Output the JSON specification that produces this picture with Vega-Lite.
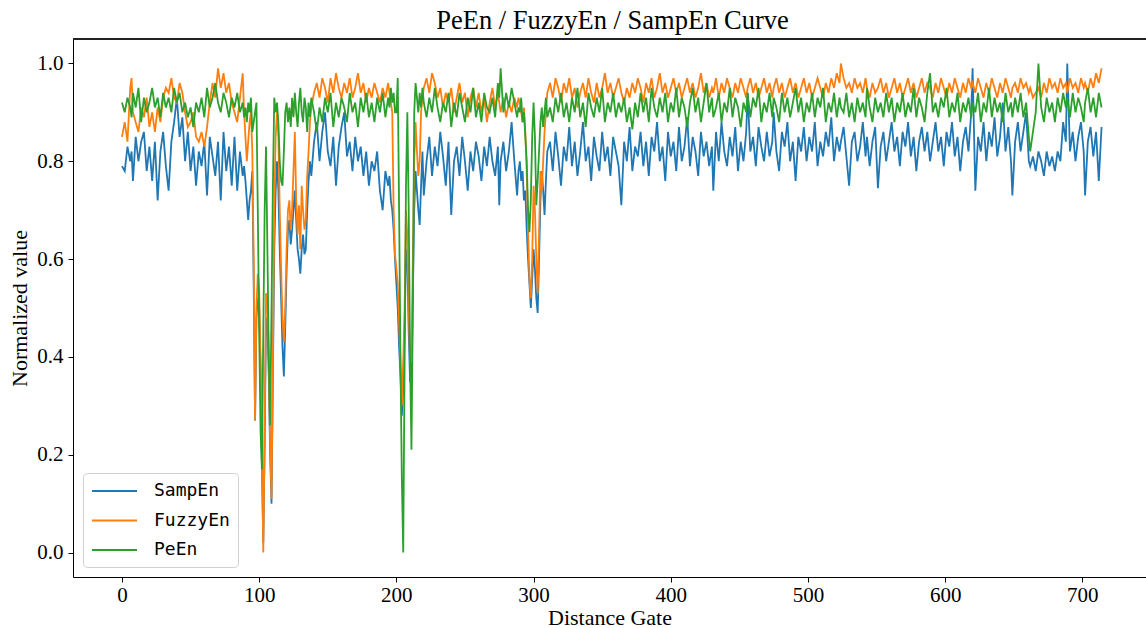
{
  "$schema": "https://vega.github.io/schema/vega-lite/v6.json",
  "width": 1073,
  "height": 538,
  "autosize": {"type": "none"},
  "padding": {"left": 73, "top": 39, "right": 0, "bottom": 51},
  "background": "white",
  "title": {
    "text": "PeEn / FuzzyEn / SampEn Curve",
    "font": "Liberation Serif",
    "fontSize": 26.5,
    "fontWeight": "normal",
    "color": "black",
    "anchor": "middle",
    "dx": 3,
    "offset": 4
  },
  "data": {
    "values": [
      {"g":0,"s":0.79,"f":0.85,"p":0.92},{"g":2,"s":0.78,"f":0.88,"p":0.90},{"g":4,"s":0.83,"f":0.84,"p":0.93},{"g":6,"s":0.80,"f":0.95,"p":0.91},{"g":7,"s":0.82,"f":0.97,"p":0.89},
      {"g":8,"s":0.76,"f":0.90,"p":0.94},{"g":10,"s":0.85,"f":0.88,"p":0.91},{"g":12,"s":0.80,"f":0.86,"p":0.95},{"g":14,"s":0.84,"f":0.91,"p":0.88},{"g":16,"s":0.86,"f":0.89,"p":0.93},
      {"g":18,"s":0.78,"f":0.93,"p":0.90},{"g":20,"s":0.83,"f":0.87,"p":0.92},{"g":22,"s":0.76,"f":0.90,"p":0.95},{"g":24,"s":0.84,"f":0.86,"p":0.91},{"g":26,"s":0.72,"f":0.91,"p":0.93},
      {"g":28,"s":0.82,"f":0.88,"p":0.89},{"g":30,"s":0.86,"f":0.93,"p":0.94},{"g":32,"s":0.79,"f":0.95,"p":0.91},{"g":34,"s":0.74,"f":0.94,"p":0.93},{"g":36,"s":0.84,"f":0.97,"p":0.90},
      {"g":38,"s":0.88,"f":0.93,"p":0.95},{"g":40,"s":0.93,"f":0.92,"p":0.92},{"g":42,"s":0.85,"f":0.96,"p":0.94},{"g":44,"s":0.89,"f":0.94,"p":0.90},{"g":46,"s":0.80,"f":0.90,"p":0.92},
      {"g":48,"s":0.86,"f":0.87,"p":0.89},{"g":50,"s":0.78,"f":0.88,"p":0.91},{"g":52,"s":0.83,"f":0.90,"p":0.87},{"g":54,"s":0.75,"f":0.85,"p":0.92},{"g":56,"s":0.82,"f":0.84,"p":0.90},
      {"g":58,"s":0.79,"f":0.86,"p":0.93},{"g":60,"s":0.84,"f":0.83,"p":0.89},{"g":62,"s":0.73,"f":0.87,"p":0.95},{"g":64,"s":0.85,"f":0.92,"p":0.91},{"g":66,"s":0.81,"f":0.96,"p":0.93},
      {"g":68,"s":0.77,"f":0.93,"p":0.96},{"g":70,"s":0.84,"f":0.99,"p":0.92},{"g":72,"s":0.72,"f":0.95,"p":0.90},{"g":74,"s":0.86,"f":0.98,"p":0.94},{"g":76,"s":0.78,"f":0.94,"p":0.92},
      {"g":78,"s":0.83,"f":0.96,"p":0.89},{"g":80,"s":0.75,"f":0.92,"p":0.93},{"g":82,"s":0.85,"f":0.90,"p":0.91},{"g":84,"s":0.74,"f":0.88,"p":0.94},{"g":86,"s":0.82,"f":0.93,"p":0.90},
      {"g":88,"s":0.77,"f":0.98,"p":0.92},{"g":89,"s":0.79,"f":0.90,"p":0.89},{"g":90,"s":0.76,"f":0.85,"p":0.91},{"g":91,"s":0.72,"f":0.80,"p":0.88},{"g":92,"s":0.68,"f":0.84,"p":0.92},
      {"g":93,"s":0.72,"f":0.88,"p":0.90},{"g":94,"s":0.74,"f":0.90,"p":0.93},{"g":95,"s":0.78,"f":0.82,"p":0.86},{"g":96,"s":0.55,"f":0.60,"p":0.88},{"g":97,"s":0.27,"f":0.27,"p":0.90},
      {"g":98,"s":0.48,"f":0.50,"p":0.92},{"g":99,"s":0.52,"f":0.57,"p":0.70},{"g":100,"s":0.50,"f":0.54,"p":0.45},{"g":101,"s":0.38,"f":0.40,"p":0.25},{"g":102,"s":0.18,"f":0.20,"p":0.17},
      {"g":103,"s":0.02,"f":0.0,"p":0.45},{"g":104,"s":0.22,"f":0.25,"p":0.70},{"g":105,"s":0.48,"f":0.53,"p":0.83},{"g":106,"s":0.47,"f":0.52,"p":0.62},{"g":107,"s":0.36,"f":0.40,"p":0.40},
      {"g":108,"s":0.20,"f":0.22,"p":0.26},{"g":109,"s":0.10,"f":0.11,"p":0.50},{"g":110,"s":0.36,"f":0.40,"p":0.75},{"g":111,"s":0.62,"f":0.70,"p":0.93},{"g":112,"s":0.74,"f":0.85,"p":0.90},
      {"g":113,"s":0.80,"f":0.90,"p":0.92},{"g":114,"s":0.74,"f":0.85,"p":0.88},{"g":115,"s":0.62,"f":0.70,"p":0.80},{"g":116,"s":0.52,"f":0.58,"p":0.76},{"g":117,"s":0.42,"f":0.48,"p":0.75},
      {"g":118,"s":0.36,"f":0.43,"p":0.82},{"g":119,"s":0.46,"f":0.50,"p":0.90},{"g":120,"s":0.58,"f":0.62,"p":0.92},{"g":121,"s":0.66,"f":0.70,"p":0.88},{"g":122,"s":0.68,"f":0.72,"p":0.91},
      {"g":123,"s":0.63,"f":0.66,"p":0.87},{"g":124,"s":0.66,"f":0.70,"p":0.93},{"g":125,"s":0.70,"f":0.78,"p":0.89},{"g":126,"s":0.74,"f":0.86,"p":0.94},{"g":127,"s":0.68,"f":0.72,"p":0.90},
      {"g":128,"s":0.62,"f":0.65,"p":0.87},{"g":129,"s":0.60,"f":0.71,"p":0.92},{"g":130,"s":0.57,"f":0.62,"p":0.95},{"g":131,"s":0.62,"f":0.75,"p":0.90},{"g":132,"s":0.65,"f":0.70,"p":0.88},
      {"g":133,"s":0.61,"f":0.66,"p":0.93},{"g":134,"s":0.62,"f":0.68,"p":0.91},{"g":135,"s":0.70,"f":0.77,"p":0.86},{"g":136,"s":0.76,"f":0.82,"p":0.92},{"g":137,"s":0.80,"f":0.88,"p":0.89},
      {"g":138,"s":0.77,"f":0.91,"p":0.93},{"g":140,"s":0.84,"f":0.94,"p":0.90},{"g":142,"s":0.88,"f":0.96,"p":0.86},{"g":144,"s":0.80,"f":0.93,"p":0.91},{"g":146,"s":0.86,"f":0.97,"p":0.88},
      {"g":148,"s":0.90,"f":0.95,"p":0.93},{"g":150,"s":0.82,"f":0.92,"p":0.90},{"g":152,"s":0.79,"f":0.97,"p":0.94},{"g":154,"s":0.85,"f":0.94,"p":0.87},{"g":156,"s":0.75,"f":0.98,"p":0.92},
      {"g":158,"s":0.83,"f":0.95,"p":0.89},{"g":160,"s":0.87,"f":0.93,"p":0.93},{"g":162,"s":0.90,"f":0.96,"p":0.91},{"g":164,"s":0.81,"f":0.94,"p":0.88},{"g":166,"s":0.84,"f":0.97,"p":0.94},
      {"g":168,"s":0.78,"f":0.93,"p":0.90},{"g":170,"s":0.85,"f":0.95,"p":0.92},{"g":172,"s":0.80,"f":0.98,"p":0.87},{"g":174,"s":0.83,"f":0.94,"p":0.93},{"g":176,"s":0.77,"f":0.96,"p":0.90},
      {"g":178,"s":0.82,"f":0.92,"p":0.94},{"g":180,"s":0.75,"f":0.95,"p":0.89},{"g":182,"s":0.80,"f":0.93,"p":0.92},{"g":184,"s":0.78,"f":0.96,"p":0.88},{"g":186,"s":0.82,"f":0.94,"p":0.93},
      {"g":188,"s":0.74,"f":0.92,"p":0.90},{"g":190,"s":0.70,"f":0.95,"p":0.94},{"g":192,"s":0.78,"f":0.93,"p":0.89},{"g":194,"s":0.75,"f":0.96,"p":0.93},{"g":195,"s":0.77,"f":0.94,"p":0.91},
      {"g":196,"s":0.72,"f":0.92,"p":0.95},{"g":197,"s":0.70,"f":0.90,"p":0.92},{"g":198,"s":0.66,"f":0.70,"p":0.94},{"g":199,"s":0.60,"f":0.61,"p":0.90},{"g":200,"s":0.55,"f":0.58,"p":0.90},
      {"g":201,"s":0.50,"f":0.55,"p":0.97},{"g":202,"s":0.42,"f":0.47,"p":0.70},{"g":203,"s":0.36,"f":0.39,"p":0.39},{"g":204,"s":0.28,"f":0.30,"p":0.15},{"g":205,"s":0.34,"f":0.39,"p":0.0},
      {"g":206,"s":0.45,"f":0.50,"p":0.39},{"g":207,"s":0.62,"f":0.70,"p":0.75},{"g":208,"s":0.60,"f":0.65,"p":0.90},{"g":209,"s":0.45,"f":0.50,"p":0.70},{"g":210,"s":0.35,"f":0.39,"p":0.39},
      {"g":211,"s":0.35,"f":0.39,"p":0.21},{"g":212,"s":0.52,"f":0.60,"p":0.50},{"g":213,"s":0.70,"f":0.80,"p":0.90},{"g":214,"s":0.78,"f":0.88,"p":0.96},{"g":215,"s":0.74,"f":0.82,"p":0.93},
      {"g":216,"s":0.70,"f":0.77,"p":0.90},{"g":217,"s":0.67,"f":0.80,"p":0.94},{"g":218,"s":0.75,"f":0.90,"p":0.91},{"g":219,"s":0.82,"f":0.93,"p":0.95},{"g":220,"s":0.73,"f":0.95,"p":0.92},
      {"g":222,"s":0.80,"f":0.97,"p":0.89},{"g":224,"s":0.85,"f":0.94,"p":0.93},{"g":226,"s":0.77,"f":0.98,"p":0.90},{"g":228,"s":0.83,"f":0.96,"p":0.95},{"g":230,"s":0.79,"f":0.93,"p":0.91},
      {"g":232,"s":0.86,"f":0.95,"p":0.88},{"g":234,"s":0.81,"f":0.91,"p":0.92},{"g":236,"s":0.75,"f":0.94,"p":0.90},{"g":238,"s":0.84,"f":0.92,"p":0.94},{"g":240,"s":0.69,"f":0.95,"p":0.87},
      {"g":242,"s":0.80,"f":0.90,"p":0.92},{"g":244,"s":0.83,"f":0.93,"p":0.89},{"g":246,"s":0.77,"f":0.96,"p":0.94},{"g":248,"s":0.85,"f":0.92,"p":0.91},{"g":250,"s":0.80,"f":0.94,"p":0.88},
      {"g":252,"s":0.74,"f":0.89,"p":0.93},{"g":254,"s":0.82,"f":0.93,"p":0.90},{"g":256,"s":0.78,"f":0.95,"p":0.95},{"g":258,"s":0.84,"f":0.91,"p":0.89},{"g":260,"s":0.81,"f":0.94,"p":0.92},
      {"g":262,"s":0.76,"f":0.90,"p":0.88},{"g":264,"s":0.83,"f":0.93,"p":0.94},{"g":266,"s":0.79,"f":0.88,"p":0.91},{"g":268,"s":0.85,"f":0.92,"p":0.90},{"g":270,"s":0.80,"f":0.95,"p":0.93},
      {"g":272,"s":0.77,"f":0.91,"p":0.89},{"g":274,"s":0.83,"f":0.94,"p":0.96},{"g":275,"s":0.71,"f":0.92,"p":0.93},{"g":276,"s":0.80,"f":0.90,"p":0.99},{"g":278,"s":0.84,"f":0.93,"p":0.90},
      {"g":280,"s":0.78,"f":0.89,"p":0.94},{"g":282,"s":0.82,"f":0.92,"p":0.91},{"g":284,"s":0.88,"f":0.90,"p":0.95},{"g":286,"s":0.80,"f":0.93,"p":0.92},{"g":288,"s":0.73,"f":0.91,"p":0.89},
      {"g":289,"s":0.78,"f":0.93,"p":0.91},{"g":290,"s":0.80,"f":0.92,"p":0.90},{"g":291,"s":0.76,"f":0.90,"p":0.93},{"g":292,"s":0.78,"f":0.88,"p":0.88},{"g":293,"s":0.72,"f":0.91,"p":0.90},
      {"g":294,"s":0.74,"f":0.86,"p":0.85},{"g":295,"s":0.66,"f":0.78,"p":0.80},{"g":296,"s":0.60,"f":0.66,"p":0.70},{"g":297,"s":0.55,"f":0.56,"p":0.655},{"g":298,"s":0.50,"f":0.52,"p":0.72},
      {"g":299,"s":0.56,"f":0.60,"p":0.85},{"g":300,"s":0.62,"f":0.75,"p":0.92},{"g":301,"s":0.58,"f":0.70,"p":0.85},{"g":302,"s":0.52,"f":0.60,"p":0.71},{"g":303,"s":0.49,"f":0.53,"p":0.76},
      {"g":304,"s":0.60,"f":0.65,"p":0.82},{"g":305,"s":0.72,"f":0.78,"p":0.88},{"g":306,"s":0.78,"f":0.74,"p":0.91},{"g":307,"s":0.74,"f":0.80,"p":0.87},{"g":308,"s":0.69,"f":0.86,"p":0.90},
      {"g":309,"s":0.76,"f":0.90,"p":0.93},{"g":310,"s":0.82,"f":0.94,"p":0.89},{"g":312,"s":0.84,"f":0.96,"p":0.91},{"g":314,"s":0.78,"f":0.93,"p":0.88},{"g":316,"s":0.86,"f":0.97,"p":0.93},
      {"g":318,"s":0.81,"f":0.95,"p":0.90},{"g":320,"s":0.75,"f":0.92,"p":0.94},{"g":322,"s":0.83,"f":0.96,"p":0.89},{"g":324,"s":0.80,"f":0.94,"p":0.92},{"g":326,"s":0.87,"f":0.97,"p":0.88},
      {"g":328,"s":0.79,"f":0.93,"p":0.93},{"g":330,"s":0.84,"f":0.95,"p":0.90},{"g":332,"s":0.77,"f":0.91,"p":0.95},{"g":334,"s":0.82,"f":0.94,"p":0.89},{"g":336,"s":0.88,"f":0.96,"p":0.92},
      {"g":338,"s":0.80,"f":0.93,"p":0.87},{"g":340,"s":0.83,"f":0.97,"p":0.94},{"g":342,"s":0.76,"f":0.94,"p":0.91},{"g":344,"s":0.85,"f":0.92,"p":0.89},{"g":346,"s":0.81,"f":0.96,"p":0.93},
      {"g":348,"s":0.78,"f":0.93,"p":0.90},{"g":350,"s":0.86,"f":0.95,"p":0.95},{"g":352,"s":0.80,"f":0.98,"p":0.88},{"g":354,"s":0.83,"f":0.94,"p":0.92},{"g":356,"s":0.77,"f":0.96,"p":0.90},
      {"g":358,"s":0.85,"f":0.93,"p":0.94},{"g":360,"s":0.82,"f":0.95,"p":0.89},{"g":362,"s":0.79,"f":0.97,"p":0.92},{"g":364,"s":0.71,"f":0.94,"p":0.90},{"g":366,"s":0.84,"f":0.92,"p":0.93},
      {"g":368,"s":0.80,"f":0.95,"p":0.88},{"g":370,"s":0.87,"f":0.93,"p":0.91},{"g":372,"s":0.78,"f":0.96,"p":0.865},{"g":374,"s":0.83,"f":0.94,"p":0.92},{"g":376,"s":0.81,"f":0.97,"p":0.89},
      {"g":378,"s":0.86,"f":0.95,"p":0.94},{"g":380,"s":0.79,"f":0.92,"p":0.90},{"g":382,"s":0.84,"f":0.96,"p":0.93},{"g":384,"s":0.77,"f":0.94,"p":0.88},{"g":386,"s":0.85,"f":0.97,"p":0.95},
      {"g":388,"s":0.82,"f":0.93,"p":0.91},{"g":390,"s":0.88,"f":0.95,"p":0.89},{"g":392,"s":0.80,"f":0.98,"p":0.93},{"g":394,"s":0.83,"f":0.94,"p":0.90},{"g":396,"s":0.76,"f":0.96,"p":0.94},
      {"g":398,"s":0.86,"f":0.93,"p":0.88},{"g":400,"s":0.81,"f":0.95,"p":0.92},{"g":402,"s":0.84,"f":0.97,"p":0.90},{"g":404,"s":0.78,"f":0.94,"p":0.95},{"g":406,"s":0.87,"f":0.96,"p":0.89},
      {"g":408,"s":0.80,"f":0.93,"p":0.93},{"g":410,"s":0.83,"f":0.95,"p":0.91},{"g":412,"s":0.89,"f":0.97,"p":0.87},{"g":414,"s":0.79,"f":0.94,"p":0.92},{"g":416,"s":0.85,"f":0.96,"p":0.95},
      {"g":418,"s":0.82,"f":0.93,"p":0.90},{"g":420,"s":0.77,"f":0.95,"p":0.93},{"g":422,"s":0.86,"f":0.98,"p":0.88},{"g":424,"s":0.81,"f":0.94,"p":0.92},{"g":426,"s":0.84,"f":0.96,"p":0.96},
      {"g":428,"s":0.79,"f":0.93,"p":0.90},{"g":430,"s":0.83,"f":0.95,"p":0.93},{"g":431,"s":0.74,"f":0.94,"p":0.89},{"g":433,"s":0.86,"f":0.97,"p":0.91},{"g":435,"s":0.80,"f":0.93,"p":0.94},
      {"g":437,"s":0.88,"f":0.96,"p":0.88},{"g":439,"s":0.82,"f":0.94,"p":0.92},{"g":441,"s":0.79,"f":0.97,"p":0.90},{"g":443,"s":0.85,"f":0.95,"p":0.95},{"g":445,"s":0.81,"f":0.93,"p":0.89},
      {"g":447,"s":0.87,"f":0.96,"p":0.93},{"g":449,"s":0.78,"f":0.94,"p":0.91},{"g":451,"s":0.84,"f":0.97,"p":0.87},{"g":453,"s":0.80,"f":0.95,"p":0.92},{"g":455,"s":0.86,"f":0.93,"p":0.90},
      {"g":456,"s":0.94,"f":0.95,"p":0.94},{"g":458,"s":0.82,"f":0.97,"p":0.89},{"g":460,"s":0.85,"f":0.94,"p":0.93},{"g":462,"s":0.79,"f":0.96,"p":0.91},{"g":464,"s":0.87,"f":0.93,"p":0.95},
      {"g":466,"s":0.83,"f":0.95,"p":0.88},{"g":468,"s":0.80,"f":0.97,"p":0.92},{"g":470,"s":0.86,"f":0.94,"p":0.90},{"g":472,"s":0.81,"f":0.96,"p":0.94},{"g":474,"s":0.84,"f":0.93,"p":0.89},
      {"g":475,"s":0.90,"f":0.95,"p":0.93},{"g":477,"s":0.82,"f":0.97,"p":0.91},{"g":479,"s":0.78,"f":0.94,"p":0.88},{"g":481,"s":0.86,"f":0.96,"p":0.94},{"g":483,"s":0.83,"f":0.93,"p":0.90},
      {"g":485,"s":0.88,"f":0.95,"p":0.93},{"g":487,"s":0.80,"f":0.97,"p":0.89},{"g":489,"s":0.84,"f":0.94,"p":0.92},{"g":491,"s":0.76,"f":0.96,"p":0.95},{"g":493,"s":0.85,"f":0.93,"p":0.90},
      {"g":495,"s":0.82,"f":0.95,"p":0.93},{"g":497,"s":0.87,"f":0.97,"p":0.88},{"g":499,"s":0.80,"f":0.94,"p":0.92},{"g":501,"s":0.85,"f":0.96,"p":0.90},{"g":503,"s":0.82,"f":0.93,"p":0.94},
      {"g":505,"s":0.88,"f":0.95,"p":0.89},{"g":507,"s":0.79,"f":0.97,"p":0.93},{"g":509,"s":0.84,"f":0.95,"p":0.91},{"g":511,"s":0.81,"f":0.93,"p":0.95},{"g":513,"s":0.86,"f":0.96,"p":0.88},
      {"g":515,"s":0.83,"f":0.94,"p":0.92},{"g":517,"s":0.89,"f":0.97,"p":0.90},{"g":519,"s":0.80,"f":0.95,"p":0.94},{"g":521,"s":0.85,"f":0.98,"p":0.89},{"g":523,"s":0.82,"f":0.96,"p":0.93},
      {"g":524,"s":0.84,"f":1.0,"p":0.91},{"g":526,"s":0.87,"f":0.97,"p":0.90},{"g":528,"s":0.81,"f":0.95,"p":0.94},{"g":530,"s":0.75,"f":0.96,"p":0.89},{"g":532,"s":0.84,"f":0.94,"p":0.92},
      {"g":534,"s":0.86,"f":0.97,"p":0.88},{"g":536,"s":0.80,"f":0.95,"p":0.93},{"g":538,"s":0.83,"f":0.96,"p":0.90},{"g":540,"s":0.88,"f":0.94,"p":0.92},{"g":542,"s":0.81,"f":0.97,"p":0.89},
      {"g":543,"s":0.85,"f":0.95,"p":0.95},{"g":545,"s":0.79,"f":0.93,"p":0.91},{"g":547,"s":0.84,"f":0.96,"p":0.88},{"g":549,"s":0.87,"f":0.94,"p":0.93},{"g":551,"s":0.745,"f":0.95,"p":0.90},
      {"g":553,"s":0.83,"f":0.97,"p":0.92},{"g":555,"s":0.86,"f":0.94,"p":0.89},{"g":557,"s":0.80,"f":0.96,"p":0.94},{"g":559,"s":0.84,"f":0.93,"p":0.90},{"g":561,"s":0.88,"f":0.95,"p":0.93},
      {"g":563,"s":0.82,"f":0.97,"p":0.88},{"g":565,"s":0.85,"f":0.94,"p":0.92},{"g":567,"s":0.79,"f":0.96,"p":0.90},{"g":569,"s":0.86,"f":0.93,"p":0.94},{"g":571,"s":0.83,"f":0.95,"p":0.89},
      {"g":573,"s":0.88,"f":0.97,"p":0.92},{"g":575,"s":0.81,"f":0.94,"p":0.90},{"g":577,"s":0.85,"f":0.96,"p":0.95},{"g":579,"s":0.78,"f":0.93,"p":0.89},{"g":581,"s":0.84,"f":0.95,"p":0.93},
      {"g":583,"s":0.87,"f":0.97,"p":0.91},{"g":585,"s":0.82,"f":0.94,"p":0.88},{"g":587,"s":0.86,"f":0.96,"p":0.94},{"g":589,"s":0.80,"f":0.95,"p":0.98},{"g":591,"s":0.84,"f":0.93,"p":0.90},
      {"g":593,"s":0.88,"f":0.96,"p":0.92},{"g":595,"s":0.82,"f":0.94,"p":0.89},{"g":597,"s":0.85,"f":0.97,"p":0.93},{"g":599,"s":0.79,"f":0.95,"p":0.91},{"g":601,"s":0.86,"f":0.93,"p":0.95},
      {"g":603,"s":0.83,"f":0.96,"p":0.89},{"g":605,"s":0.88,"f":0.94,"p":0.92},{"g":607,"s":0.81,"f":0.97,"p":0.90},{"g":609,"s":0.85,"f":0.95,"p":0.94},{"g":611,"s":0.78,"f":0.93,"p":0.88},
      {"g":613,"s":0.84,"f":0.96,"p":0.92},{"g":615,"s":0.87,"f":0.94,"p":0.90},{"g":617,"s":0.82,"f":0.97,"p":0.93},{"g":619,"s":0.90,"f":0.95,"p":0.89},{"g":620,"s":0.99,"f":0.96,"p":0.92},
      {"g":622,"s":0.74,"f":0.94,"p":0.90},{"g":624,"s":0.85,"f":0.97,"p":0.94},{"g":626,"s":0.82,"f":0.95,"p":0.88},{"g":628,"s":0.88,"f":0.93,"p":0.92},{"g":630,"s":0.80,"f":0.96,"p":0.90},
      {"g":632,"s":0.86,"f":0.94,"p":0.95},{"g":634,"s":0.83,"f":0.97,"p":0.89},{"g":636,"s":0.89,"f":0.95,"p":0.93},{"g":638,"s":0.81,"f":0.93,"p":0.90},{"g":640,"s":0.85,"f":0.96,"p":0.92},
      {"g":642,"s":0.92,"f":0.94,"p":0.88},{"g":644,"s":0.82,"f":0.97,"p":0.94},{"g":646,"s":0.87,"f":0.95,"p":0.90},{"g":648,"s":0.80,"f":0.93,"p":0.92},{"g":649,"s":0.73,"f":0.95,"p":0.89},
      {"g":651,"s":0.84,"f":0.96,"p":0.93},{"g":653,"s":0.88,"f":0.94,"p":0.90},{"g":655,"s":0.82,"f":0.97,"p":0.94},{"g":657,"s":0.86,"f":0.95,"p":0.89},{"g":659,"s":0.90,"f":0.96,"p":0.92},
      {"g":661,"s":0.80,"f":0.94,"p":0.85},{"g":662,"s":0.79,"f":0.95,"p":0.82},{"g":664,"s":0.81,"f":0.93,"p":0.86},{"g":666,"s":0.78,"f":0.94,"p":0.90},{"g":668,"s":0.82,"f":0.95,"p":1.0},
      {"g":670,"s":0.80,"f":0.93,"p":0.91},{"g":672,"s":0.77,"f":0.96,"p":0.88},{"g":674,"s":0.82,"f":0.94,"p":0.93},{"g":676,"s":0.79,"f":0.97,"p":0.90},{"g":678,"s":0.81,"f":0.95,"p":0.92},
      {"g":680,"s":0.78,"f":0.96,"p":0.88},{"g":682,"s":0.82,"f":0.94,"p":0.93},{"g":684,"s":0.80,"f":0.97,"p":0.90},{"g":686,"s":0.88,"f":0.95,"p":0.94},{"g":688,"s":0.84,"f":0.96,"p":0.91},
      {"g":689,"s":1.0,"f":0.94,"p":0.93},{"g":691,"s":0.82,"f":0.97,"p":0.89},{"g":693,"s":0.86,"f":0.95,"p":0.94},{"g":695,"s":0.80,"f":0.96,"p":0.90},{"g":697,"s":0.85,"f":0.94,"p":0.93},
      {"g":699,"s":0.88,"f":0.97,"p":0.91},{"g":701,"s":0.82,"f":0.95,"p":0.88},{"g":702,"s":0.73,"f":0.96,"p":0.92},{"g":704,"s":0.84,"f":0.94,"p":0.95},{"g":706,"s":0.87,"f":0.97,"p":0.90},
      {"g":708,"s":0.81,"f":0.95,"p":0.93},{"g":710,"s":0.86,"f":0.98,"p":0.89},{"g":712,"s":0.76,"f":0.96,"p":0.94},{"g":714,"s":0.87,"f":0.99,"p":0.91}
    ]
  },
  "transform": [{"fold": ["s", "f", "p"], "as": ["series", "value"]}],
  "layer": [
    {
      "mark": {"type": "line", "strokeWidth": 1.8, "clip": true},
      "encoding": {
        "x": {
          "field": "g",
          "type": "quantitative",
          "scale": {"domain": [-35.7, 746.4], "nice": false, "zero": false},
          "axis": {
            "values": [0, 100, 200, 300, 400, 500, 600, 700],
            "title": "Distance Gate",
            "titleFont": "Liberation Serif",
            "titleFontSize": 22,
            "titleFontWeight": "normal",
            "titleColor": "black",
            "titlePadding": 2,
            "labelFont": "Liberation Serif",
            "labelFontSize": 21,
            "labelColor": "black",
            "labelPadding": 2,
            "tickColor": "black",
            "tickSize": 5,
            "domainColor": "black",
            "grid": false
          }
        },
        "y": {
          "field": "value",
          "type": "quantitative",
          "scale": {"domain": [-0.05, 1.05], "nice": false, "zero": false},
          "axis": {
            "values": [0, 0.2, 0.4, 0.6, 0.8, 1.0],
            "format": ".1f",
            "title": "Normalized value",
            "titleFont": "Liberation Serif",
            "titleFontSize": 22,
            "titleFontWeight": "normal",
            "titleColor": "black",
            "titlePadding": 5,
            "labelFont": "Liberation Serif",
            "labelFontSize": 21,
            "labelColor": "black",
            "labelPadding": 5,
            "tickColor": "black",
            "tickSize": 5,
            "domainColor": "black",
            "grid": false
          }
        },
        "color": {
          "field": "series",
          "type": "nominal",
          "scale": {"domain": ["s", "f", "p"], "range": ["#1f77b4", "#ff7f0e", "#2ca02c"]},
          "legend": {
            "orient": "none",
            "legendX": 10,
            "legendY": 434,
            "title": null,
            "labelExpr": "{'s': 'SampEn', 'f': 'FuzzyEn', 'p': 'PeEn'}[datum.label]",
            "labelFont": "DejaVu Sans Mono",
            "labelFontSize": 18,
            "labelColor": "black",
            "symbolType": "M-1,0H4",
            "symbolStrokeWidth": 2,
            "symbolSize": 324,
            "labelOffset": 43,
            "rowPadding": 10.5,
            "fillColor": "white",
            "strokeColor": "#d0d0d0",
            "cornerRadius": 4,
            "padding": 8
          }
        }
      }
    },
    {
      "mark": {"type": "rule", "color": "#222222", "strokeWidth": 1},
      "encoding": {"y": {"datum": 1.05}}
    }
  ],
  "config": {"view": {"stroke": null}}
}
